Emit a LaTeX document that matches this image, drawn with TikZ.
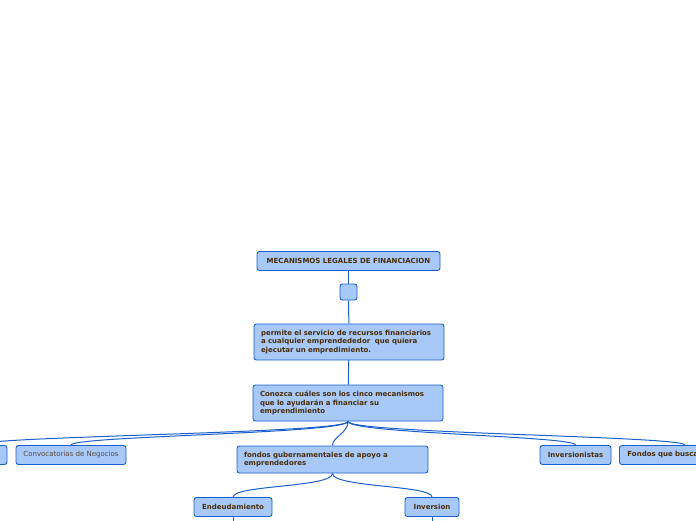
\documentclass[tikz,border=0pt]{standalone}
\usepackage{fontspec}
\setmainfont{DejaVu Sans}
\usetikzlibrary{positioning}
\definecolor{boxfill}{HTML}{A8C8F8}
\definecolor{boxline}{HTML}{1A5FD0}
\definecolor{linkblue}{HTML}{1A5FD0}
\definecolor{textbrown}{HTML}{4A2C08}
\definecolor{textgrey}{HTML}{5A4A3A}
\tikzset{
  topic/.style={draw=boxline, fill=boxfill, rounded corners=2.5pt, line width=0.9pt, inner xsep=7pt, inner ysep=0pt, minimum height=19pt, font=\fontsize{7}{8.4}\selectfont\bfseries, text=textbrown},
  topicwide/.style={topic, align=left, text width=#1, minimum height=36pt},
  topicplain/.style={topic, font=\fontsize{7}{8.4}\selectfont, text=textgrey},
  link/.style={draw=linkblue, line width=1pt}
}
\begin{document}
\begin{tikzpicture}[x=1pt, y=-1pt]
  \useasboundingbox (0,0) rectangle (696,520);
  \clip (0,0) rectangle (696,520);
  \node[topic, minimum width=183pt] (title) at (348.5,261) {MECANISMOS LEGALES DE FINANCIACION};
  \node[topic, minimum width=17pt, minimum height=16pt, inner xsep=0pt] (blank) at (348.5,292) {};
  \node[topicwide=176pt] (permite) at (349,342) {permite el servicio de recursos financiarios\\a cualquier emprendededor\ \ que quiera\\ejecutar un empredimiento.};
  \node[topicwide=176pt] (conozca) at (348,403) {Conozca cuáles son los cinco mecanismos\\que le ayudarán a financiar su\\emprendimiento};
  % second level
  \node[topic, minimum width=60pt] (hidden) at (-23,455) {};
  \node[topicplain, minimum width=110pt] (convoca) at (71,455) {Convocatorias de Negocios};
  \node[topicwide=177pt, minimum height=27pt] (fondos) at (332.5,459.5) {fondos gubernamentales de apoyo a\\emprendedores};
  \node[topic, minimum width=71pt] (inversores) at (575.5,455) {Inversionistas};
  \node[topic, anchor=west, align=left, text width=80pt, inner xsep=8pt] (buscan) at (619,455) {Fondos que busca};
  % third level
  \node[topic, minimum width=78pt] (deuda) at (233,507) {Endeudamiento};
  \node[topic, minimum width=54pt] (inversion) at (432,507) {Inversion};
  \coordinate (deudaend) at (233,530);
  \coordinate (inversionend) at (432,530);
  % connectors
  \draw[link] (title) -- (blank);
  \draw[link] (blank) -- (permite);
  \draw[link] (permite) -- (conozca);
  \foreach \kid in {hidden, convoca, fondos, inversores} {
    \draw[link] (conozca.south) .. controls +(0,12) and +(0,-9) .. (\kid.north);
  }
  \draw[link] (conozca.south) .. controls +(0,12) and +(0,-9) .. ([xshift=66pt]buscan.north west);
  \draw[link] (fondos.south) .. controls +(0,14) and +(0,-12) .. (deuda.north);
  \draw[link] (fondos.south) .. controls +(0,14) and +(0,-12) .. (inversion.north);
  \draw[link] (deuda) -- (deudaend);
  \draw[link] (inversion) -- (inversionend);
\end{tikzpicture}
\end{document}
